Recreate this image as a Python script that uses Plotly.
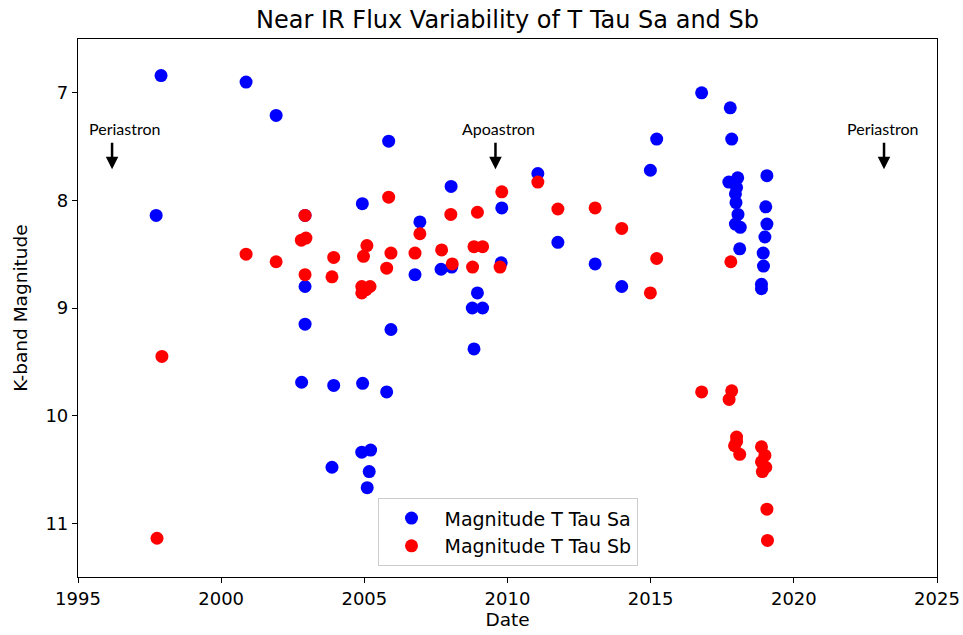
import plotly.graph_objects as go

# ---- data ----
sa_date = [1997.90, 1997.73, 2000.87, 2001.92, 2002.93, 2002.93, 2002.93, 2002.81, 2003.93, 2003.87,
           2004.93, 2004.94, 2004.91, 2005.22, 2005.17, 2005.10, 2005.78, 2005.85, 2005.93, 2006.94,
           2006.77, 2007.68, 2008.03, 2008.05, 2008.77, 2009.13, 2008.95, 2008.83, 2009.80, 2009.78,
           2011.06, 2011.76, 2013.06, 2013.99, 2014.99, 2015.21, 2016.78, 2017.78, 2017.83, 2017.73,
           2018.04, 2018.00, 2017.96, 2017.98, 2018.05, 2017.96, 2018.13, 2018.11, 2019.06, 2019.02,
           2019.06, 2018.99, 2018.93, 2018.94, 2018.87, 2018.87]
sa_mag = [6.84, 8.14, 6.90, 7.21, 8.14, 8.80, 9.15, 9.69, 9.72, 10.48,
          8.03, 9.70, 10.34, 10.32, 10.52, 10.67, 9.78, 7.45, 9.20, 8.20,
          8.69, 8.64, 7.87, 8.62, 9.00, 9.00, 8.86, 9.38, 8.07, 8.58,
          7.75, 8.39, 8.59, 8.80, 7.72, 7.43, 7.00, 7.14, 7.43, 7.83,
          7.79, 7.88, 7.94, 8.02, 8.13, 8.22, 8.25, 8.45, 7.77, 8.06,
          8.22, 8.34, 8.49, 8.61, 8.78, 8.82]

sb_date = [1997.76, 1997.93, 2000.87, 2001.92, 2002.93, 2002.80, 2002.96, 2002.93, 2003.93, 2003.87,
           2005.09, 2004.97, 2004.91, 2005.20, 2004.91, 2005.06, 2005.85, 2005.93, 2005.78, 2006.94,
           2006.77, 2007.70, 2008.02, 2008.07, 2008.95, 2008.83, 2009.13, 2008.78, 2009.80, 2009.74,
           2011.06, 2011.76, 2013.06, 2013.99, 2014.99, 2015.21, 2016.78, 2017.80, 2017.83, 2017.74,
           2018.00, 2018.00, 2017.93, 2018.11, 2018.87, 2018.99, 2018.87, 2019.02, 2018.90, 2019.06,
           2019.08]
sb_mag = [11.14, 9.45, 8.50, 8.57, 8.14, 8.37, 8.35, 8.69, 8.53, 8.71,
          8.42, 8.52, 8.80, 8.80, 8.86, 8.83, 7.97, 8.49, 8.63, 8.31,
          8.49, 8.46, 8.13, 8.59, 8.11, 8.43, 8.43, 8.62, 7.92, 8.62,
          7.83, 8.08, 8.07, 8.26, 8.86, 8.54, 9.78, 8.57, 9.77, 9.85,
          10.20, 10.24, 10.28, 10.36, 10.29, 10.37, 10.43, 10.48, 10.52, 10.87,
          11.16]

event_labels = ["Periastron", "Apoastron", "Periastron"]
event_dates = [1996.19, 2009.58, 2023.15]
event_text_dates = [1996.61, 2009.69, 2023.11]

x_ticks = [1995, 2000, 2005, 2010, 2015, 2020, 2025]
y_ticks = [7, 8, 9, 10, 11]

FONT = "DejaVu Sans"

fig = go.Figure()
fig.add_trace(go.Scatter(x=sa_date, y=sa_mag, mode="markers", name="Magnitude T Tau Sa",
                         marker=dict(color="#0000ff", size=13, line=dict(width=0))))
fig.add_trace(go.Scatter(x=sb_date, y=sb_mag, mode="markers", name="Magnitude T Tau Sb",
                         marker=dict(color="#ff0000", size=13, line=dict(width=0))))

annotations = []
for lab, xd, xt in zip(event_labels, event_dates, event_text_dates):
    annotations.append(dict(x=xt, y=7.335, xref="x", yref="y", text=lab, showarrow=False,
                            font=dict(family="Lato", size=16, color="black")))
    annotations.append(dict(x=xd, y=7.71, ax=xd, ay=7.45, xref="x", yref="y", axref="x", ayref="y",
                            text="", showarrow=True, arrowhead=2, arrowsize=1, arrowwidth=2.5,
                            arrowcolor="black", standoff=0))

fig.update_layout(
    width=963, height=635,
    margin=dict(l=78, r=26, t=39, b=58, autoexpand=False),
    paper_bgcolor="white", plot_bgcolor="white",
    font=dict(family=FONT, size=18, color="black"),
    title=dict(text="Near IR Flux Variability of T Tau Sa and Sb", x=0.5, xref="paper", xanchor="center",
               y=0.982, yanchor="top", font=dict(family=FONT, size=24, color="black")),
    showlegend=True,
    legend=dict(x=0.5, xanchor="center", y=0.02, yanchor="bottom", bgcolor="rgba(255,255,255,0.8)",
                bordercolor="#cccccc", borderwidth=1, font=dict(family=FONT, size=19),
                itemwidth=56, tracegroupgap=4),
    annotations=annotations,
)
fig.update_xaxes(range=[1995, 2025], tickvals=x_ticks, ticks="outside", ticklen=5, tickcolor="black",
                 showline=True, linecolor="black", linewidth=1.2, mirror=True, showgrid=False, zeroline=False,
                 automargin=False, title=dict(text="Date", standoff=5, font=dict(size=18.5)))
fig.update_yaxes(range=[11.5, 6.5], tickvals=y_ticks, ticks="outside", ticklen=5, tickcolor="black",
                 showline=True, linecolor="black", linewidth=1.2, mirror=True, showgrid=False, zeroline=False,
                 automargin=False, title=dict(text="K-band Magnitude", standoff=12, font=dict(size=18.5)))

fig.write_html("out.html", config={"displayModeBar": False},
               post_script="document.body.style.margin='0';document.body.style.padding='0';"
                           "document.body.style.overflow='hidden';")
